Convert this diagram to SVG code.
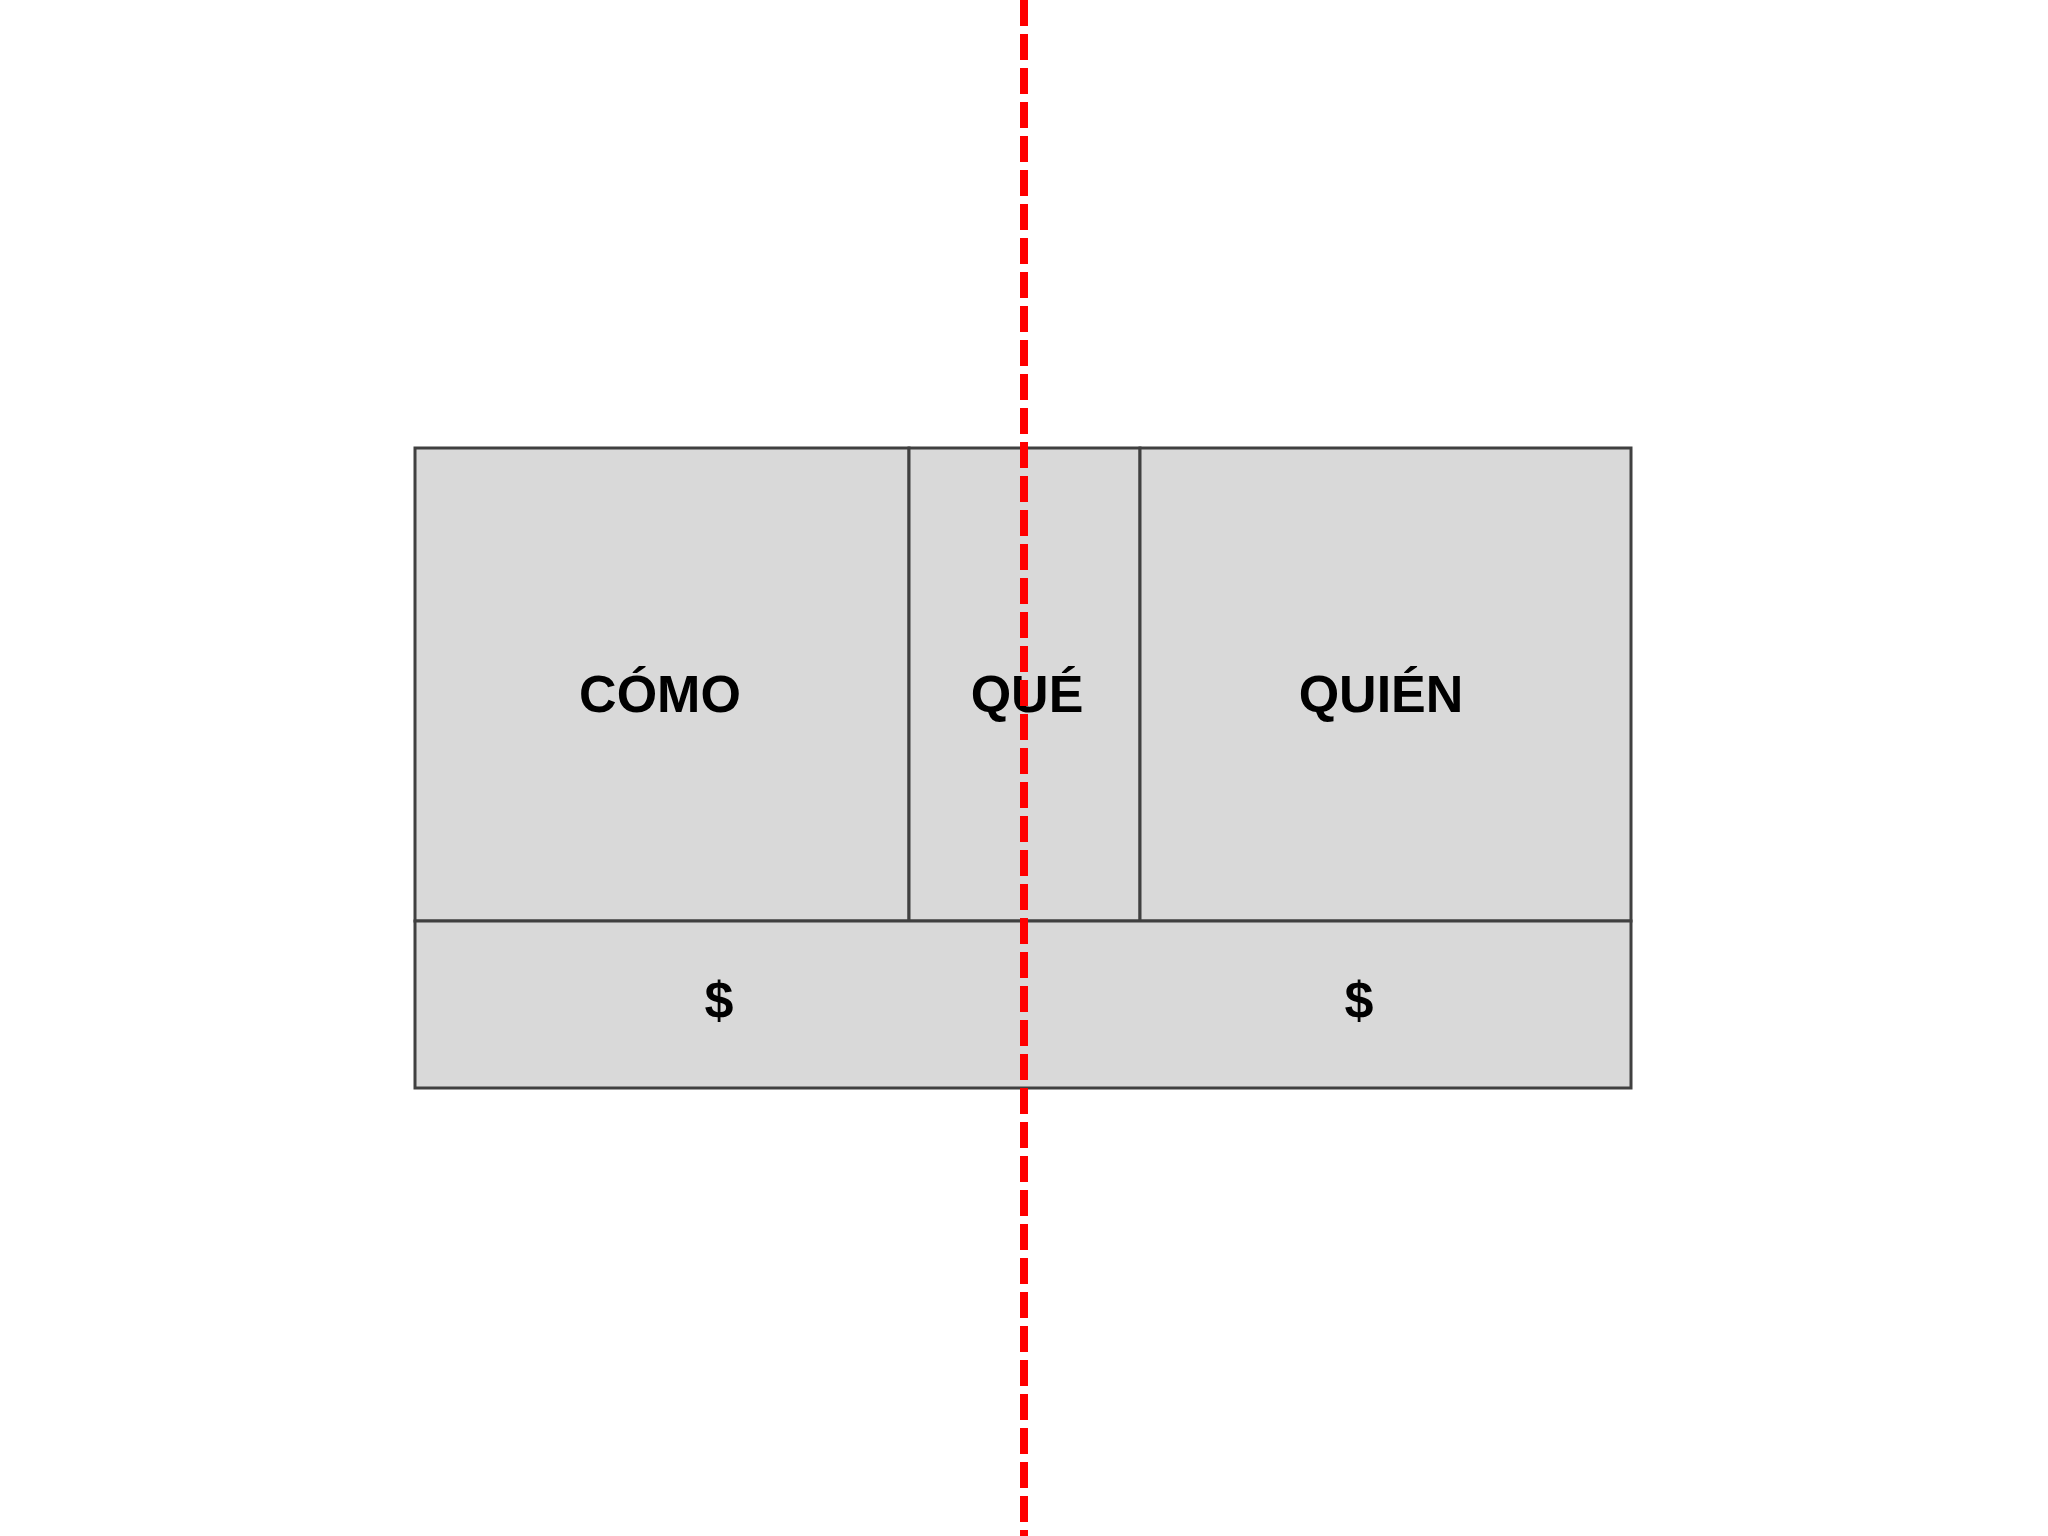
<svg xmlns="http://www.w3.org/2000/svg" width="2048" height="1536" viewBox="0 0 2048 1536">
<style>
.cell{fill:#d9d9d9;stroke:#404040;stroke-width:3}
.lbl{font-family:"Liberation Sans",Arial,sans-serif;font-weight:bold;font-size:52px;fill:#000;text-anchor:middle}
.cut{stroke:#ff0000;stroke-width:8;stroke-dasharray:26 8;fill:none}
</style>
<rect width="2048" height="1536" fill="#ffffff"/>
<g id="como"><rect class="cell" x="415" y="448" width="494" height="473"/><text class="lbl" x="660" y="712">CÓMO</text></g>
<g id="que"><rect class="cell" x="909" y="448" width="231" height="473"/><text class="lbl" x="1027" y="712">QUÉ</text></g>
<g id="quien"><rect class="cell" x="1140" y="448" width="491" height="473"/><text class="lbl" x="1381" y="712">QUIÉN</text></g>
<g id="dinero"><rect class="cell" x="415" y="921" width="1216" height="167"/><text class="lbl" x="719" y="1018">$</text><text class="lbl" x="1359" y="1018">$</text></g>
<g id="connectors"><line class="cut" x1="1024" y1="0" x2="1024" y2="1536"/></g>
</svg>
